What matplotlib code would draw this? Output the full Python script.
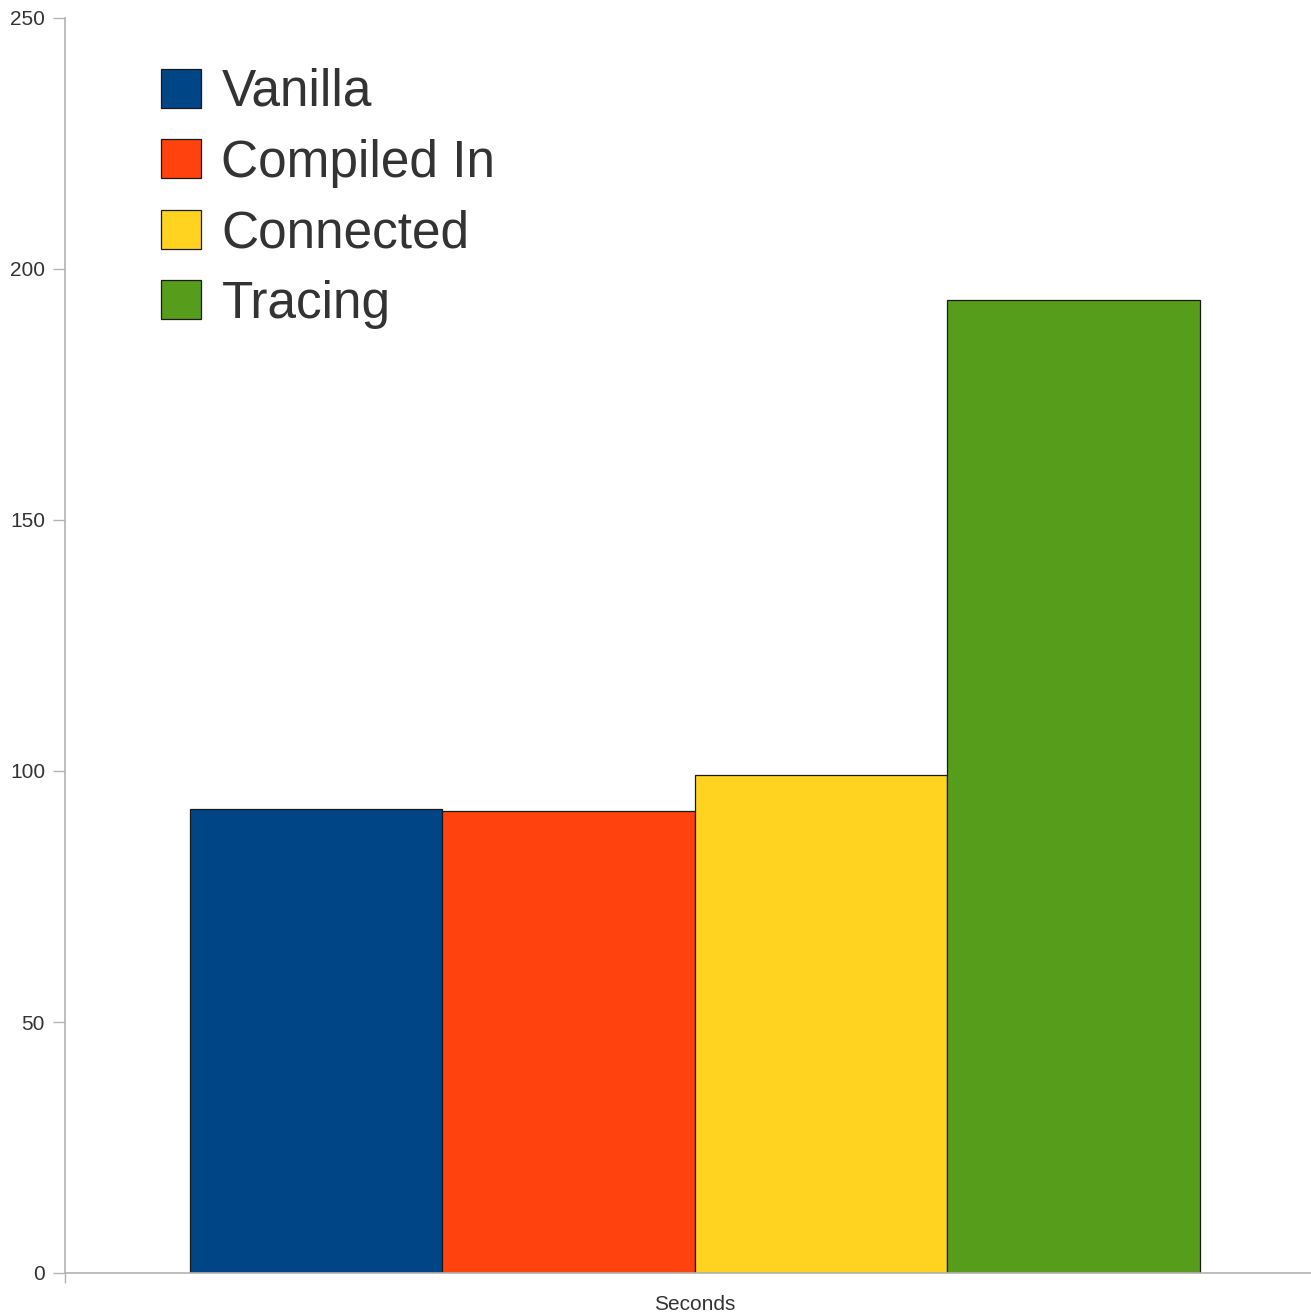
import matplotlib
matplotlib.use('Agg')
import matplotlib.pyplot as plt
from matplotlib.patches import Patch
from matplotlib import rcParams

rcParams['font.family'] = ['Liberation Sans', 'DejaVu Sans']

# data
series = ['Vanilla', 'Compiled In', 'Connected', 'Tracing']
values = [92.5, 92.1, 99.2, 193.8]
colors = ['#004586', '#ff420e', '#ffd320', '#579d1c']
category = 'Seconds'
yticks = [0, 50, 100, 150, 200, 250]

W, H = 1311, 1316
fig = plt.figure(figsize=(W / 100, H / 100), dpi=100)
ax = fig.add_axes([65 / W, 43 / H, 1 - 65 / W, 1255 / H])

# bars side by side around the single category
width = 1.0
offsets = [(i - (len(series) - 1) / 2) * width for i in range(len(series))]
for off, v, c, s in zip(offsets, values, colors, series):
    ax.bar(off, v, width=width, color=c, edgecolor='#1a1a1a', linewidth=0.9, label=s, zorder=2)

ax.set_xlim(-2.495, 2.44)
ax.set_ylim(0, 250)

for side in ['top', 'right']:
    ax.spines[side].set_visible(False)
for side in ['left', 'bottom']:
    ax.spines[side].set_color('#b3b3b3')
    ax.spines[side].set_linewidth(1.2)

ax.set_yticks(yticks)
ax.tick_params(axis='y', length=8.6, width=1.0, color='#b3b3b3', pad=5.8,
               labelsize=15, labelcolor='#333333')
ax.set_xticks([0])
ax.set_xticklabels([category])
ax.tick_params(axis='x', length=0, pad=16, labelsize=15, labelcolor='#333333')
ax.set_xticks([-2.495], minor=True)
ax.tick_params(axis='x', which='minor', length=7.2, width=1.0, color='#b3b3b3')

fs = 37
sq = 29 / fs
handles = [Patch(facecolor=c, edgecolor='#1a1a1a', linewidth=0.9) for c in colors]
leg = ax.legend(handles, series, loc='upper left', bbox_to_anchor=(161 / W, 1 - 68 / H),
                bbox_transform=fig.transFigure, frameon=False, fontsize=fs,
                handlelength=sq, handleheight=sq, handletextpad=14.5 / fs,
                labelspacing=0.42, borderpad=0, borderaxespad=0)
for t in leg.get_texts():
    t.set_color('#333333')

plt.savefig('out.png', dpi=100, facecolor='white')
